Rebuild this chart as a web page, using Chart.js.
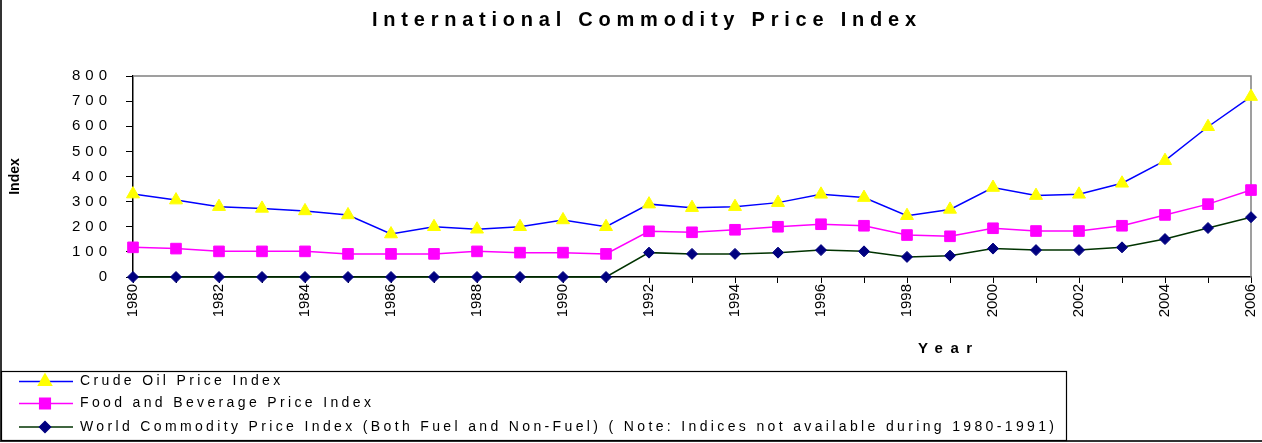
<!DOCTYPE html>
<html>
<head>
<meta charset="utf-8">
<title>International Commodity Price Index</title>
<script src="https://cdn.jsdelivr.net/npm/chart.js@4/dist/chart.umd.min.js"></script>
<style>
  html, body { margin: 0; padding: 0; background: #fff; }
  #wrap { width: 1262px; height: 443px; }
</style>
</head>
<body>
<div id="wrap"><canvas id="chart" width="1262" height="443"></canvas></div>
<script>
/* ---- data ---- */
const years = ['1980','1981','1982','1983','1984','1985','1986','1987','1988','1989',
               '1990','1991','1992','1993','1994','1995','1996','1997','1998','1999',
               '2000','2001','2002','2003','2004','2005','2006'];
const crudeOil = [330, 306, 280, 273, 263, 247, 171, 200, 190, 200,
                  227, 200, 290, 276, 280, 296, 329, 316, 244, 269,
                  356, 324, 329, 373, 463, 598, 718];
const foodBev  = [118, 113, 102, 102, 102, 92, 92, 92, 102, 97,
                  97, 92, 182, 178, 188, 200, 210, 204, 167, 162,
                  194, 183, 183, 204, 247, 290, 346];
const worldIdx = [0, 0, 0, 0, 0, 0, 0, 0, 0, 0,
                  0, 0, 97, 92, 92, 97, 107, 102, 80, 85,
                  113, 107, 107, 118, 151, 195, 238];
const yTicks   = [0, 100, 200, 300, 400, 500, 600, 700, 800];
const seriesNames = [
  'Crude Oil Price Index',
  'Food and Beverage Price Index',
  'World Commodity Price Index (Both Fuel and Non-Fuel) ( Note: Indices not available during 1980-1991)'
];

const FONT = '"Liberation Sans", Arial, sans-serif';

// text with letters pushed apart so it fills a given width
function spacedText(ctx, text, font, x, y, width) {
  ctx.font = font;
  ctx.letterSpacing = '0px';
  const w = ctx.measureText(text).width;
  ctx.letterSpacing = ((width - w) / (text.length - 1)) + 'px';
  ctx.textAlign = 'left';
  ctx.textBaseline = 'middle';
  ctx.fillText(text, x, y);
  ctx.letterSpacing = '0px';
}

const decor = {
  id: 'decor',
  afterLayout(chart) {
    const y = chart.scales.y;
    if (!y._spaced) {
      const orig = y.drawLabels;
      y.drawLabels = function (area) {
        const c = this.ctx;
        c.save();
        c.letterSpacing = '5px';
        orig.call(this, area);
        c.restore();
      };
      y._spaced = true;
    }
  },
  beforeDatasetsDraw(chart) {
    const { ctx, chartArea: a } = chart;
    ctx.save();
    ctx.strokeStyle = '#808080';
    ctx.lineWidth = 1.5;
    ctx.beginPath();
    ctx.moveTo(a.left, a.top);
    ctx.lineTo(a.right, a.top);
    ctx.lineTo(a.right, a.bottom);
    ctx.stroke();
    ctx.restore();
  },
  afterDraw(chart) {
    const { ctx } = chart;
    ctx.save();
    ctx.fillStyle = '#000';
    spacedText(ctx, 'International Commodity Price Index', 'bold 20px ' + FONT, 372, 20, 544);
    spacedText(ctx, 'Year', 'bold 15px ' + FONT, 918, 349, 54);

    // outer frame + legend box
    ctx.strokeStyle = '#333';
    ctx.lineWidth = 2;
    ctx.beginPath();
    ctx.moveTo(1, 0);
    ctx.lineTo(1, 441);
    ctx.lineTo(1262, 441);
    ctx.stroke();
    ctx.lineWidth = 1.2;
    ctx.strokeStyle = '#000';
    ctx.strokeRect(1.5, 371.5, 1065, 69);

    // legend
    ctx.font = '14px ' + FONT;
    ctx.letterSpacing = '0px';
    const wLast = ctx.measureText(seriesNames[2]).width;
    const ls = (974 - wLast) / (seriesNames[2].length - 1);
    const rows = [381.5, 403.5, 427];
    chart.data.datasets.forEach((ds, i) => {
      const yy = rows[i];
      ctx.strokeStyle = ds.borderColor;
      ctx.lineWidth = 1.5;
      ctx.beginPath();
      ctx.moveTo(19, yy);
      ctx.lineTo(73, yy);
      ctx.stroke();
      ctx.fillStyle = ds.pointBackgroundColor;
      ctx.strokeStyle = ds.pointBorderColor;
      Chart.helpers.drawPoint(ctx, {
        pointStyle: ds.pointStyle, radius: ds.pointRadius, rotation: 0, borderWidth: 1
      }, 45, yy);
      ctx.fillStyle = '#000';
      ctx.font = '14px ' + FONT;
      ctx.letterSpacing = ls + 'px';
      ctx.textAlign = 'left';
      ctx.textBaseline = 'middle';
      ctx.fillText(ds.label, 80, yy);
    });
    ctx.letterSpacing = '0px';
    ctx.restore();
  }
};

new Chart(document.getElementById('chart'), {
  type: 'line',
  data: {
    labels: years,
    datasets: [{
      label: seriesNames[0],
      data: crudeOil,
      borderColor: '#0000FF',
      borderWidth: 1.5,
      pointStyle: 'triangle',
      pointRadius: 7.5,
      pointBackgroundColor: '#FFFF00',
      pointBorderColor: '#FFFF00',
      pointBorderWidth: 1,
      clip: false
    }, {
      label: seriesNames[1],
      data: foodBev,
      borderColor: '#FF00FF',
      borderWidth: 1.5,
      pointStyle: 'rect',
      pointRadius: 7.5,
      pointBackgroundColor: '#FF00FF',
      pointBorderColor: '#FF00FF',
      pointBorderWidth: 1,
      clip: false
    }, {
      label: seriesNames[2],
      data: worldIdx,
      borderColor: '#003300',
      borderWidth: 1.5,
      pointStyle: 'rectRot',
      pointRadius: 5.5,
      pointBackgroundColor: '#000080',
      pointBorderColor: '#000080',
      pointBorderWidth: 1,
      clip: false
    }]
  },
  options: {
    responsive: false,
    animation: false,
    events: [],
    layout: { padding: { top: 76, right: 11, bottom: 0, left: 0 } },
    elements: { line: { tension: 0 } },
    plugins: {
      legend: { display: false },
      title: { display: false },
      tooltip: { enabled: false }
    },
    scales: {
      x: {
        type: 'category',
        offset: false,
        afterFit(scale) {
          scale.height = 166;
          scale.paddingLeft = 0;
          scale.paddingRight = 0;
        },
        grid: { drawOnChartArea: false, color: '#000', tickLength: 6, lineWidth: 1 },
        border: { color: '#000', width: 1.5 },
        ticks: {
          autoSkip: false,
          maxRotation: 90,
          minRotation: 90,
          padding: 1,
          color: '#000',
          font: { family: FONT, size: 15 },
          callback(v, i) { return Number(years[i]) % 2 === 0 ? years[i] : ''; }
        }
      },
      y: {
        min: 0,
        max: 800,
        afterFit(scale) {
          scale.width = 133;
          scale.paddingTop = 0;
          scale.paddingBottom = 0;
        },
        afterBuildTicks(scale) { scale.ticks = yTicks.map(v => ({ value: v })); },
        grid: { drawOnChartArea: false, color: '#000', tickLength: 7, lineWidth: 1 },
        border: { color: '#000', width: 1.5 },
        title: {
          display: true,
          text: 'Index',
          color: '#000',
          font: { family: FONT, size: 14, weight: 'bold' },
          padding: { top: 7, bottom: 0 }
        },
        ticks: {
          padding: 14,
          color: '#000',
          font: { family: FONT, size: 15 }
        }
      }
    }
  },
  plugins: [decor]
});
</script>
</body>
</html>
